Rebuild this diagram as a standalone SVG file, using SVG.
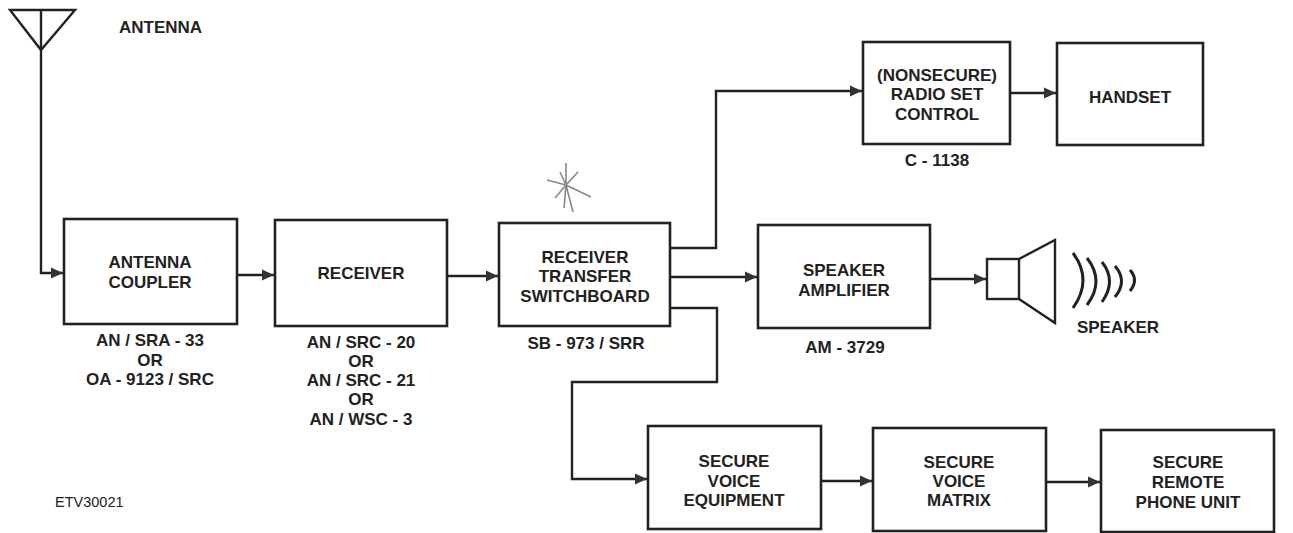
<svg xmlns="http://www.w3.org/2000/svg" width="1293" height="533" viewBox="0 0 1293 533">
<style>
.box{fill:#fff;stroke:#222;stroke-width:2.6}
.ln{fill:none;stroke:#222;stroke-width:2.4}
.wv{fill:none;stroke:#222;stroke-width:3}
.t{font-family:"Liberation Sans",Arial,sans-serif;font-weight:bold;font-size:17px;fill:#222;text-anchor:middle}
.star{stroke:#888;stroke-width:1.6;fill:none}
</style>
<defs>
<marker id="ah" markerUnits="userSpaceOnUse" markerWidth="13" markerHeight="12" refX="12" refY="6" orient="auto">
<path d="M0,0.5 L12,6 L0,11.5 z" fill="#333"/>
</marker>
</defs>
<rect width="1293" height="533" fill="#fff"/>

<g id="antenna">
<path class="ln" d="M10,10 L75,10 L41,50 Z M41,10 L41,50"/>
<text class="t" x="119" y="33" style="text-anchor:start">ANTENNA</text>
</g>

<g id="connectors">
<path class="ln" d="M41,50 L41,273 L63,273" marker-end="url(#ah)"/>
<path class="ln" d="M237,275 L274,275" marker-end="url(#ah)"/>
<path class="ln" d="M447,276 L498,276" marker-end="url(#ah)"/>
<path class="ln" d="M670,248 L716,248 L716,91 L862,91" marker-end="url(#ah)"/>
<path class="ln" d="M1010,93 L1056,93" marker-end="url(#ah)"/>
<path class="ln" d="M670,277 L757,277" marker-end="url(#ah)"/>
<path class="ln" d="M930,279 L986,279" marker-end="url(#ah)"/>
<path class="ln" d="M670,308 L717,308 L717,382 L572,382 L572,479 L647,479" marker-end="url(#ah)"/>
<path class="ln" d="M821,481 L872,481" marker-end="url(#ah)"/>
<path class="ln" d="M1046,482 L1100,482" marker-end="url(#ah)"/>
</g>

<g id="coupler">
<rect class="box" x="64" y="219" width="173" height="105"/>
<text class="t" x="150" y="268">ANTENNA</text>
<text class="t" x="150" y="288">COUPLER</text>
<text class="t" x="150" y="346">AN / SRA - 33</text>
<text class="t" x="150" y="366">OR</text>
<text class="t" x="150" y="385">OA - 9123 / SRC</text>
</g>

<g id="receiver">
<rect class="box" x="275" y="220" width="172" height="106"/>
<text class="t" x="361" y="279">RECEIVER</text>
<text class="t" x="361" y="348">AN / SRC - 20</text>
<text class="t" x="361" y="367">OR</text>
<text class="t" x="361" y="386">AN / SRC - 21</text>
<text class="t" x="361" y="405">OR</text>
<text class="t" x="361" y="425">AN / WSC - 3</text>
</g>

<g id="switchboard">
<rect class="box" x="499" y="223" width="171" height="103"/>
<text class="t" x="585" y="263">RECEIVER</text>
<text class="t" x="585" y="282">TRANSFER</text>
<text class="t" x="585" y="302">SWITCHBOARD</text>
<text class="t" x="586" y="349">SB - 973 / SRR</text>
</g>

<g id="star">
<path class="star" d="M566,185 L566,163 M566,185 L578,172 M566,185 L547,180 M566,185 L591,197 M566,185 L555,198 M566,185 L573,212 M566,185 L564,208 M560,172 L566,185"/>
</g>

<g id="radioset">
<rect class="box" x="863" y="42" width="147" height="102"/>
<text class="t" x="937" y="81">(NONSECURE)</text>
<text class="t" x="937" y="100">RADIO SET</text>
<text class="t" x="937" y="120">CONTROL</text>
<text class="t" x="937" y="166">C - 1138</text>
</g>

<g id="handset">
<rect class="box" x="1057" y="43" width="146" height="102"/>
<text class="t" x="1130" y="103">HANDSET</text>
</g>

<g id="speakeramp">
<rect class="box" x="758" y="225" width="172" height="103"/>
<text class="t" x="844" y="276">SPEAKER</text>
<text class="t" x="844" y="296">AMPLIFIER</text>
<text class="t" x="845" y="353">AM - 3729</text>
</g>

<g id="speaker">
<rect class="ln" x="987" y="259" width="32" height="40"/>
<path class="ln" d="M1019,259 L1055,240 L1055,323 L1019,299"/>
<path class="wv" d="M1073,253 Q1093,280 1073,308 M1087,258 Q1105,281 1087,305 M1102,262 Q1117,281 1102,302 M1115,266 Q1128,281 1115,297 M1130,270 Q1139,280 1130,291"/>
<text class="t" x="1118" y="333">SPEAKER</text>
</g>

<g id="securevoice">
<rect class="box" x="648" y="426" width="173" height="103"/>
<text class="t" x="734" y="467">SECURE</text>
<text class="t" x="734" y="487">VOICE</text>
<text class="t" x="734" y="506">EQUIPMENT</text>
</g>

<g id="matrix">
<rect class="box" x="873" y="428" width="173" height="103"/>
<text class="t" x="959" y="468">SECURE</text>
<text class="t" x="959" y="487">VOICE</text>
<text class="t" x="959" y="506">MATRIX</text>
</g>

<g id="remote">
<rect class="box" x="1101" y="430" width="173" height="102"/>
<text class="t" x="1188" y="468">SECURE</text>
<text class="t" x="1188" y="488">REMOTE</text>
<text class="t" x="1188" y="508">PHONE UNIT</text>
</g>

<g id="figid">
<text x="55" y="507" style="font-family:'Liberation Sans',Arial,sans-serif;font-size:14.5px;fill:#222">ETV30021</text>
</g>
</svg>
